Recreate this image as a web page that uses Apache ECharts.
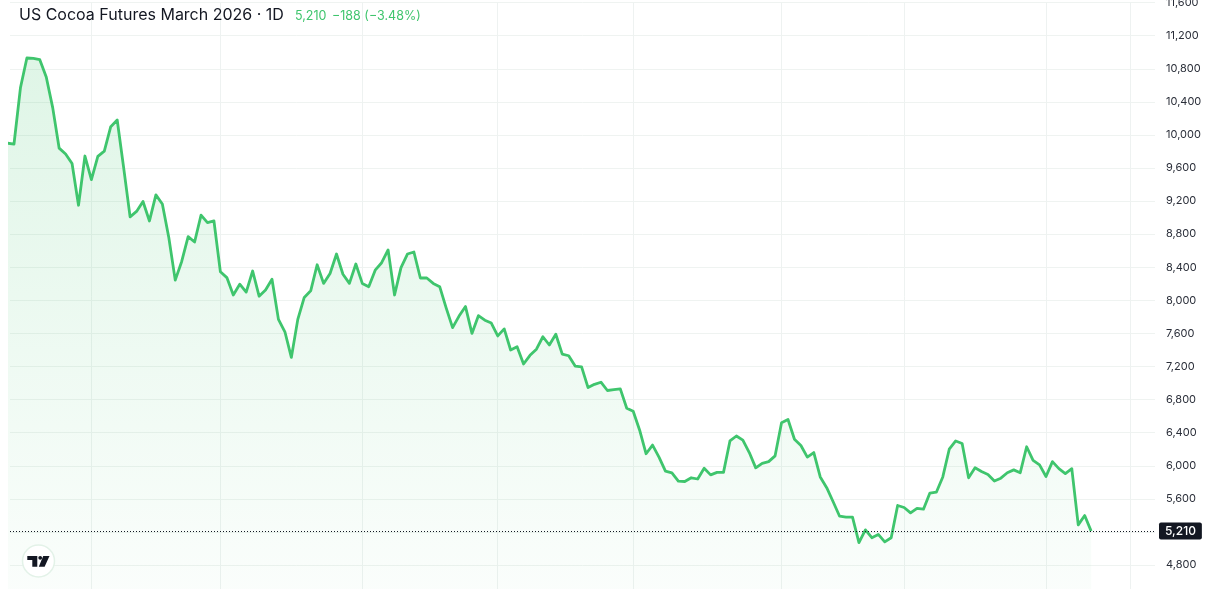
<!DOCTYPE html>
<html>
<head>
<meta charset="utf-8">
<script src="https://cdn.jsdelivr.net/npm/echarts@6/dist/echarts.min.js"></script>
<style>
  html, body { margin: 0; padding: 0; background: #ffffff; }
  #chart { width: 1209px; height: 589px; }
</style>
</head>
<body>
<div id="chart"></div>
<script>
// Daily closes (bar index 0 is partly off the left edge)
const closes = [
  9900, 9890, 10570, 10930, 10925, 10910, 10700, 10330, 9840, 9770,
  9655, 9150, 9745, 9460, 9740, 9805, 10100, 10180, 9605, 9010,
  9075, 9195, 8960, 9275, 9165, 8760, 8245, 8470, 8770, 8705,
  9030, 8940, 8960, 8345, 8275, 8065, 8195, 8100, 8355, 8050,
  8125, 8255, 7770, 7620, 7310, 7770, 8035, 8115, 8430, 8205,
  8325, 8560, 8315, 8205, 8440, 8205, 8165, 8365, 8455, 8610,
  8065, 8395, 8560, 8585, 8270, 8270, 8205, 8165, 7910, 7670,
  7810, 7925, 7600, 7815, 7760, 7725, 7570, 7655, 7400, 7440,
  7230, 7335, 7410, 7560, 7460, 7590, 7350, 7330, 7205, 7195,
  6945, 6985, 7010, 6910, 6920, 6930, 6695, 6660, 6430, 6145,
  6250, 6105, 5935, 5915, 5815, 5810, 5855, 5840, 5970, 5890,
  5920, 5920, 6300, 6360, 6310, 6160, 5975, 6030, 6050, 6120,
  6520, 6560, 6320, 6245, 6105, 6160, 5865, 5735, 5565, 5390,
  5380, 5380, 5070, 5225, 5130, 5170, 5080, 5130, 5520, 5495,
  5430, 5485, 5475, 5670, 5680, 5865, 6200, 6300, 6270, 5855,
  5975, 5930, 5895, 5815, 5850, 5915, 5950, 5915, 6230, 6065,
  6010, 5870, 6050, 5965, 5905, 5965, 5285, 5398, 5210
];
// Bar indices where time-scale gridlines fall
const timeGridIdx = [13, 33, 55, 76, 97, 120, 139, 161, 174];
const lastPrice = 5210;
const titleText = 'US Cocoa Futures March 2026 \u00b7 1D';
const priceText = '5,210';
const changeText = '\u2212188 (\u22123.48%)';

const GREEN = '#3fc56d';
const seriesData = closes.map((v, i) => [i, v]);

const chart = echarts.init(document.getElementById('chart'), null, { renderer: 'canvas' });

chart.setOption({
  animation: false,
  backgroundColor: '#ffffff',
  grid: { left: 10, right: 54, top: 2.6, height: 595.5, containLabel: false, outerBoundsMode: 'none' },
  xAxis: {
    type: 'value',
    min: 0.38,
    max: 177.9,
    show: false
  },
  yAxis: {
    type: 'value',
    position: 'right',
    min: 4400,
    max: 11600,
    interval: 400,
    axisLine: { show: false },
    axisTick: { show: false },
    splitLine: { show: true, lineStyle: { color: '#eff3f1', width: 1 } },
    axisLabel: {
      margin: 11,
      color: '#2a2e39',
      fontFamily: 'Inter',
      fontSize: 11,
      formatter: v => v === 5200 ? '' : v.toLocaleString('en-US')
    }
  },
  series: [
    {
      // time-scale gridlines, drawn beneath the price line
      type: 'line',
      z: 1,
      data: [],
      silent: true,
      markLine: {
        z: 1,
        silent: true,
        symbol: 'none',
        animation: false,
        label: { show: false },
        lineStyle: { color: '#eef2f1', width: 1, type: 'solid' },
        data: timeGridIdx.map(i => ({ xAxis: i }))
      }
    },
    {
      type: 'line',
      z: 3,
      data: seriesData,
      showSymbol: false,
      symbol: 'none',
      clip: true,
      lineStyle: { color: GREEN, width: 2.8, join: 'round' },
      areaStyle: {
        color: new echarts.graphic.LinearGradient(0, 0, 0, 1, [
          { offset: 0, color: 'rgba(63,197,109,0.24)' },
          { offset: 1, color: 'rgba(63,197,109,0.03)' }
        ])
      },
      markLine: {
        z: 5,
        silent: true,
        symbol: 'none',
        animation: false,
        data: [{
          yAxis: lastPrice,
          lineStyle: { color: '#131722', width: 1, type: [1, 2] },
          label: {
            show: true,
            position: 'end',
            distance: 4,
            formatter: priceText,
            backgroundColor: '#131722',
            color: '#ffffff',
            fontFamily: 'Inter',
            fontSize: 12,
            fontWeight: 500,
            padding: [3, 6, 2, 6],
            borderRadius: 2
          }
        }]
      }
    }
  ],
  graphic: [
    { type: 'text', left: 19, top: 7, z: 10,
      style: { text: titleText, fill: '#131722', fontFamily: 'Inter', fontSize: 16, fontWeight: 400 } },
    { type: 'text', left: 295, top: 10, z: 10,
      style: { text: priceText, fill: GREEN, fontFamily: 'Inter', fontSize: 12.5, fontWeight: 400 } },
    { type: 'text', left: 332, top: 10, z: 10,
      style: { text: changeText, fill: GREEN, fontFamily: 'Inter', fontSize: 12.5, fontWeight: 400 } },
    { type: 'circle', z: 10, shape: { cx: 38.5, cy: 561, r: 16 },
      style: { fill: '#ffffff', stroke: '#e3f2e8', lineWidth: 1.5 } },
    { type: 'polygon', z: 11,
      shape: { points: [[27.3, 556], [37.3, 556], [37.3, 566.7], [32.3, 566.7], [32.3, 560], [27.3, 560]] },
      style: { fill: '#131722' } },
    { type: 'circle', z: 11, shape: { cx: 40.2, cy: 557.8, r: 1.9 }, style: { fill: '#131722' } },
    { type: 'polygon', z: 11,
      shape: { points: [[43.2, 556], [49.5, 556], [44.6, 566.7], [38.8, 566.7]] },
      style: { fill: '#131722' } }
  ]
});
</script>
</body>
</html>
